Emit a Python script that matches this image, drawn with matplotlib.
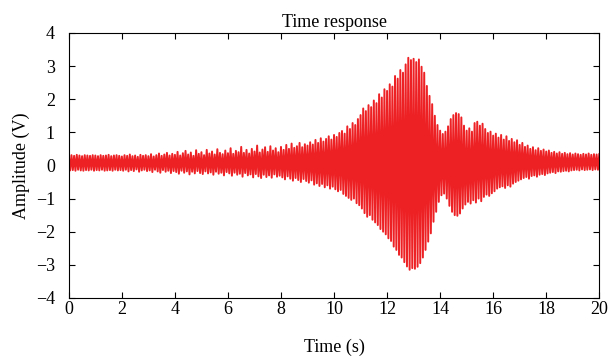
import numpy as np
import matplotlib
matplotlib.use("Agg")
import matplotlib.pyplot as plt

# upper peaks read at t = 0.0, 0.1, ..., 20.0 s (one row per second)
peaks_pos = [
    0.30, 0.31, 0.29, 0.32, 0.30, 0.28, 0.31, 0.30, 0.29, 0.31,
    0.30, 0.28, 0.31, 0.29, 0.30, 0.32, 0.28, 0.30, 0.31, 0.29,
    0.27, 0.31, 0.29, 0.33, 0.28, 0.30, 0.26, 0.32, 0.29, 0.31,
    0.28, 0.34, 0.27, 0.31, 0.36, 0.29, 0.33, 0.38, 0.30, 0.35,
    0.32, 0.41, 0.30, 0.37, 0.44, 0.33, 0.39, 0.29, 0.46, 0.35,
    0.40, 0.31, 0.47, 0.36, 0.42, 0.33, 0.49, 0.38, 0.34, 0.45,
    0.37, 0.52, 0.35, 0.44, 0.40, 0.56, 0.38, 0.47, 0.36, 0.50,
    0.42, 0.60, 0.39, 0.48, 0.55, 0.41, 0.58, 0.45, 0.52, 0.40,
    0.56, 0.47, 0.62, 0.50, 0.66, 0.53, 0.58, 0.68, 0.55, 0.64,
    0.60, 0.70, 0.63, 0.77, 0.68, 0.82, 0.72, 0.80, 0.88, 0.78,
    0.92, 0.86, 0.98, 1.04, 0.96, 1.18, 1.10, 1.28, 1.22, 1.40,
    1.52, 1.72, 1.64, 1.82, 1.76, 1.96, 1.88, 2.15, 2.05, 2.30,
    2.25, 2.45, 2.38, 2.70, 2.62, 2.88, 2.80, 3.05, 3.25, 3.18,
    3.22, 3.12, 3.20, 2.98, 2.80, 2.40, 2.10, 1.85, 1.50, 1.22,
    1.05, 0.95, 1.02, 1.18, 1.40, 1.52, 1.58, 1.55, 1.45, 1.20,
    1.05, 1.12, 1.02, 1.28, 1.32, 1.20, 1.26, 1.10, 0.98, 1.02,
    0.90, 0.96, 0.84, 0.92, 0.78, 0.88, 0.74, 0.80, 0.70, 0.76,
    0.62, 0.68, 0.56, 0.60, 0.50, 0.55, 0.46, 0.52, 0.44, 0.48,
    0.42, 0.45, 0.38, 0.41, 0.36, 0.40, 0.35, 0.38, 0.34, 0.37,
    0.33, 0.36, 0.34, 0.32, 0.35, 0.33, 0.36, 0.32, 0.34, 0.33,
    0.34,
]
# lower peaks read at t = 0.05, 0.15, ..., 19.95 s
peaks_neg = [
    -0.15, -0.14, -0.16, -0.13, -0.15, -0.16, -0.14, -0.15, -0.13, -0.16,
    -0.14, -0.15, -0.13, -0.16, -0.15, -0.14, -0.16, -0.13, -0.15, -0.14,
    -0.16, -0.13, -0.18, -0.14, -0.17, -0.12, -0.19, -0.15, -0.13, -0.17,
    -0.15, -0.20, -0.13, -0.18, -0.22, -0.14, -0.19, -0.16, -0.23, -0.17,
    -0.20, -0.25, -0.16, -0.22, -0.18, -0.27, -0.19, -0.24, -0.17, -0.23,
    -0.26, -0.18, -0.24, -0.21, -0.28, -0.19, -0.25, -0.22, -0.30, -0.20,
    -0.24, -0.31, -0.22, -0.28, -0.25, -0.34, -0.23, -0.30, -0.27, -0.36,
    -0.26, -0.33, -0.38, -0.28, -0.35, -0.30, -0.37, -0.27, -0.34, -0.31,
    -0.36, -0.42, -0.33, -0.40, -0.46, -0.38, -0.44, -0.50, -0.41, -0.47,
    -0.52, -0.45, -0.58, -0.54, -0.62, -0.56, -0.66, -0.60, -0.70, -0.64,
    -0.72, -0.78, -0.74, -0.86, -0.92, -0.98, -1.04, -1.00, -1.14, -1.20,
    -1.30, -1.44, -1.55, -1.50, -1.64, -1.72, -1.80, -1.92, -2.00, -2.08,
    -2.20, -2.28, -2.45, -2.55, -2.70, -2.78, -2.92, -3.05, -3.15, -3.10,
    -3.12, -3.06, -2.95, -2.78, -2.55, -2.30, -2.05, -1.70, -1.40, -1.10,
    -0.90, -0.85, -1.00, -1.22, -1.40, -1.50, -1.52, -1.45, -1.30, -1.18,
    -1.10, -1.15, -1.05, -1.12, -1.00, -1.08, -0.95, -0.88, -0.92, -0.84,
    -0.78, -0.70, -0.66, -0.63, -0.68, -0.60, -0.64, -0.55, -0.50, -0.46,
    -0.42, -0.38, -0.35, -0.40, -0.32, -0.30, -0.34, -0.28, -0.26, -0.29,
    -0.24, -0.22, -0.20, -0.23, -0.18, -0.19, -0.17, -0.16, -0.18, -0.15,
    -0.14, -0.13, -0.15, -0.12, -0.14, -0.13, -0.12, -0.14, -0.12, -0.13,
]

x_ticks = [0, 2, 4, 6, 8, 10, 12, 14, 16, 18, 20]
y_ticks = [-4, -3, -2, -1, 0, 1, 2, 3, 4]

# interleave the read peaks into one alternating trace
amp = np.empty(len(peaks_pos) + len(peaks_neg))
amp[0::2] = peaks_pos
amp[1::2] = peaks_neg
t = np.linspace(0, 20, len(amp))

plt.rcParams["font.family"] = ["Liberation Serif", "DejaVu Serif"]

fig = plt.figure(figsize=(6.09, 3.62), dpi=100)
ax = fig.add_axes([0.113, 0.177, 0.871, 0.732])
ax.plot(t, amp, color="#ed2024", lw=1.4)

ax.set_xlim(0, 20)
ax.set_ylim(-4, 4)
ax.set_xticks(x_ticks)
ax.set_yticks(y_ticks)
ax.tick_params(direction="in", top=True, right=True, length=4, labelsize=13)
ax.tick_params(axis="x", pad=2)
ax.tick_params(axis="y", pad=10)
ax.set_xlabel("Time (s)", fontsize=13, labelpad=15)
ax.set_ylabel("Amplitude (V)", fontsize=13, labelpad=4)
ax.set_title("Time response", fontsize=13, pad=4)

fig.savefig("out.png", dpi=100)
